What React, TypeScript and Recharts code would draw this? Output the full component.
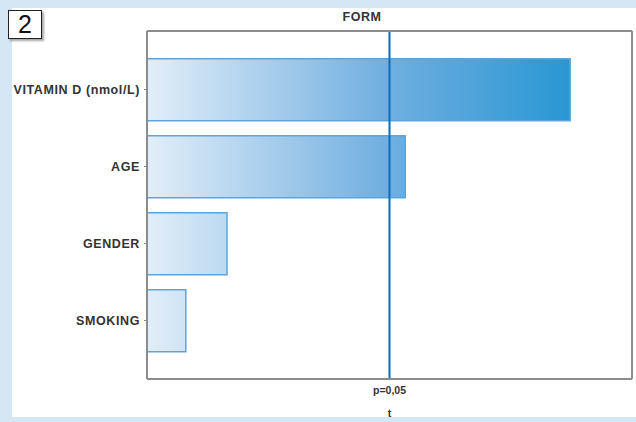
import { BarChart, Bar, XAxis, YAxis, ReferenceLine, Label } from "recharts";

const factors = ["VITAMIN D (nmol/L)", "AGE", "GENDER", "SMOKING"];
const tValues = [3.49, 2.13, 0.66, 0.32];
const xTicks = [0.5, 1, 1.5, 2, 2.5, 3, 3.5];
const pCritical = 2;
const pLabel = "p=0,05";

const data = factors.map((factor, i) => ({ factor, t: tValues[i] }));

const FONT = "'Liberation Sans', Arial, sans-serif";
const FRAME = "#8c8c8c";

// single-line category label (default tick wraps long names)
function FactorTick({ x, y, payload }: any) {
  return (
    <text
      x={x}
      y={y}
      dy={4}
      textAnchor="end"
      fontFamily={FONT}
      fontSize={12.5}
      fontWeight="bold"
      fill="#333"
      letterSpacing={0.6}
    >
      {payload.value}
    </text>
  );
}

export default function App() {
  return (
    <div
      style={{
        position: "absolute",
        left: 0,
        top: 0,
        width: 636,
        height: 422,
        background: "#d5e6f5",
        fontFamily: FONT,
      }}
    >
      <div style={{ position: "absolute", left: 12, top: 8, width: 624, height: 409, background: "#fff" }} />
      <div
        style={{
          position: "absolute",
          left: 8,
          top: 10,
          width: 32,
          height: 27,
          border: "1px solid #222",
          background: "#fff",
          boxShadow: "2px 2px 2px rgba(0,0,0,0.35)",
          fontSize: 25,
          lineHeight: "27px",
          textAlign: "center",
          color: "#111",
        }}
      >
        2
      </div>
      <div
        style={{
          position: "absolute",
          left: 312,
          top: 10,
          width: 100,
          textAlign: "center",
          fontSize: 12.5,
          fontWeight: "bold",
          color: "#333",
          letterSpacing: 0.5,
        }}
      >
        FORM
      </div>
      <div style={{ position: "absolute", left: 0, top: 0 }}>
        <BarChart
          width={636}
          height={422}
          data={data}
          layout="vertical"
          margin={{ top: 30, right: 3, bottom: 5, left: 12 }}
          barCategoryGap="10%"
        >
          <defs>
            <linearGradient id="barFill" x1={147} x2={572} y1={0} y2={0} gradientUnits="userSpaceOnUse">
              <stop offset="0%" stopColor="#e2eef9" />
              <stop offset="55%" stopColor="#72b0e0" />
              <stop offset="100%" stopColor="#2896d3" />
            </linearGradient>
          </defs>
          <XAxis
            xAxisId="bottom"
            type="number"
            domain={[0, 4]}
            ticks={xTicks}
            tick={false}
            tickSize={3}
            height={38}
            axisLine={{ stroke: FRAME, strokeWidth: 2 }}
            tickLine={{ stroke: FRAME }}
          >
            <Label
              value="t"
              position="insideBottom"
              offset={0}
              style={{ fontSize: 10.5, fontWeight: "bold", fill: "#333", fontFamily: FONT }}
            />
          </XAxis>
          <XAxis
            xAxisId="top"
            orientation="top"
            type="number"
            domain={[0, 4]}
            ticks={xTicks}
            tick={false}
            tickSize={3}
            height={1}
            axisLine={{ stroke: FRAME, strokeWidth: 2 }}
            tickLine={{ stroke: FRAME }}
          />
          <YAxis
            yAxisId="left"
            type="category"
            dataKey="factor"
            width={135}
            padding={{ top: 20, bottom: 20 }}
            tickSize={3}
            tickMargin={4}
            axisLine={{ stroke: FRAME, strokeWidth: 2 }}
            tickLine={{ stroke: FRAME }}
            tick={<FactorTick />}
          />
          <YAxis
            yAxisId="right"
            orientation="right"
            type="category"
            dataKey="factor"
            width={1}
            padding={{ top: 20, bottom: 20 }}
            tick={false}
            tickSize={3}
            axisLine={{ stroke: FRAME, strokeWidth: 2 }}
            tickLine={{ stroke: FRAME }}
          />
          <Bar
            xAxisId="bottom"
            yAxisId="left"
            dataKey="t"
            fill="url(#barFill)"
            stroke="#5aa6dc"
            strokeWidth={1.5}
            isAnimationActive={false}
          />
          <ReferenceLine
            xAxisId="bottom"
            yAxisId="left"
            x={pCritical}
            stroke="#0b6db6"
            strokeWidth={2}
            label={{
              value: pLabel,
              position: "bottom",
              offset: 8,
              style: { fontSize: 10.5, fontWeight: "bold", fill: "#333", fontFamily: FONT },
            }}
          />
        </BarChart>
      </div>
    </div>
  );
}
